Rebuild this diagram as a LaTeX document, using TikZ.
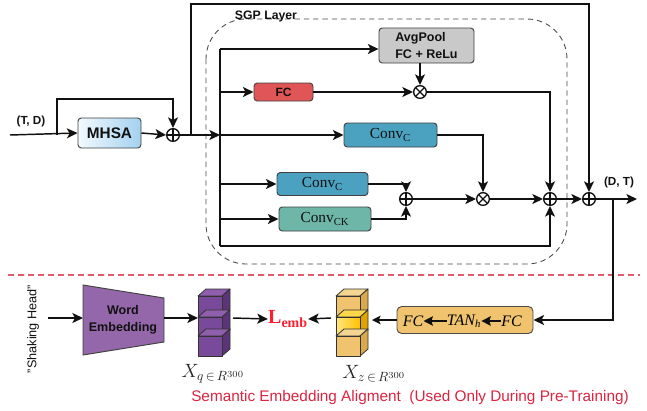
\documentclass[tikz,border=0pt]{standalone}
\usepackage{fontspec}
\setmainfont{Liberation Serif}
\setsansfont{Liberation Sans}
\usetikzlibrary{arrows.meta,calc}

\definecolor{ink}{HTML}{111111}
\definecolor{boxedge}{HTML}{404040}
\definecolor{fcred}{HTML}{E05656}
\definecolor{poolgray}{HTML}{C9C9C9}
\definecolor{convblue}{HTML}{4AA2C0}
\definecolor{convteal}{HTML}{6DB6A8}
\definecolor{mhsaL}{HTML}{F2FAFE}
\definecolor{mhsaR}{HTML}{A3D1EF}
\definecolor{wepurple}{HTML}{9467AA}
\definecolor{cubePf}{HTML}{7A4A9A}
\definecolor{cubePt}{HTML}{8F5FAE}
\definecolor{cubePs}{HTML}{5C3478}
\definecolor{sand}{HTML}{F0C46E}
\definecolor{sandtop}{HTML}{F5D690}
\definecolor{sandside}{HTML}{D9A94C}
\definecolor{goldL}{HTML}{FFE680}
\definecolor{goldR}{HTML}{FFC200}
\definecolor{goldtop}{HTML}{FFD84A}
\definecolor{goldside}{HTML}{E0A400}
\definecolor{lossred}{HTML}{FF1E2D}
\definecolor{notered}{HTML}{DC2340}
\definecolor{splitred}{HTML}{E35A6A}
\definecolor{layergray}{HTML}{4A4A4A}

% one cube: lower-left front corner (#1,#2); styles for front, top and side faces
\newcommand{\drawcube}[5]{%
  \draw[cubeedge,#4] (#1,#2-20) -- ++(8,-7) -- ++(24,0) -- ++(-8,7) -- cycle;
  \draw[cubeedge,#5] (#1+24,#2) -- ++(8,-7) -- ++(0,-20) -- ++(-8,7) -- cycle;
  \draw[cubeedge,#3] (#1,#2) rectangle ++(24,-20);
}

\begin{document}
\begin{tikzpicture}[x=0.75pt,y=-0.75pt,
  conn/.style={draw=ink, line width=1.1pt, -{Stealth[length=8pt,width=7.5pt,inset=2pt]}},
  wire/.style={draw=ink, line width=1.1pt},
  blk/.style={draw=boxedge, line width=0.7pt, rounded corners=2.5pt, inner sep=0pt, text=ink},
  sumop/.style={circle, draw=ink, line width=1pt, minimum size=9.5pt, inner sep=0pt, fill=white,
    path picture={\draw[ink,line width=0.9pt]
      (path picture bounding box.north) -- (path picture bounding box.south)
      (path picture bounding box.west) -- (path picture bounding box.east);}},
  prodop/.style={circle, draw=ink, line width=1pt, minimum size=9.5pt, inner sep=0pt, fill=white,
    path picture={\draw[ink,line width=0.9pt]
      (path picture bounding box.north west) -- (path picture bounding box.south east)
      (path picture bounding box.north east) -- (path picture bounding box.south west);}},
  sanslab/.style={font=\sffamily\bfseries\fontsize{8.8}{10}\selectfont, text=ink, inner sep=0pt},
  convtext/.style={font=\fontsize{11.5}{13}\selectfont},
  cubeedge/.style={draw=black!80, line width=0.6pt, line join=round},
  tipbig/.style={draw=ink, line width=1.3pt, -{Stealth[length=7pt,width=7pt,inset=1pt]}},
]
\useasboundingbox (0,0) rectangle (647,411);

% ---------------- SGP layer frame ----------------
\draw[draw=layergray, dash pattern=on 4pt off 3pt, line width=0.65pt, rounded corners=30pt]
  (206,19) rectangle (567,264);
\node[sanslab, font=\sffamily\bfseries\fontsize{9.2}{10}\selectfont] (sgp) at (266,16) {SGP Layer};

% ---------------- blocks ----------------
\node[blk, shading=axis, left color=mhsaL, right color=mhsaR, minimum width=47.25pt, minimum height=22.5pt,
      font=\sffamily\bfseries\fontsize{11.5}{13}\selectfont] (mhsa) at (109.5,133) {MHSA};
\node[sumop] (op1) at (173,135) {};

\node[blk, fill=fcred, minimum width=44.25pt, minimum height=13.5pt,
      font=\sffamily\bfseries\fontsize{9}{10}\selectfont] (fc) at (283.5,92) {FC};
\node[blk, fill=poolgray, minimum width=71.25pt, minimum height=26.25pt, align=left,
      font=\sffamily\bfseries\fontsize{9.4}{12.75}\selectfont] (avg) at (426.5,45.5) {AvgPool\\FC + ReLu};
\node[prodop] (ot1) at (420,92) {};

\node[blk, fill=convblue, minimum width=69.75pt, minimum height=18pt, convtext] (convc1) at (390.5,135) {Conv\textsubscript{C}};
\node[blk, fill=convblue, minimum width=68.25pt, minimum height=17.25pt, convtext] (convc2) at (322.5,184) {Conv\textsubscript{C}};
\node[blk, fill=convteal, minimum width=69pt, minimum height=18pt, convtext] (convck) at (325,219) {Conv\textsubscript{CK}};

\node[sumop] (op2) at (406,199) {};
\node[prodop] (ot2) at (483,199) {};
\node[sumop] (op3) at (550,199) {};
\node[sumop] (op4) at (589,199) {};

\node[sanslab] (td) at (31,121) {(T, D)};
\node[sanslab] (dt) at (619,182) {(D, T)};

% ---------------- top-half connectors ----------------
\coordinate (in) at (10,135);
\coordinate (skp) at (57,135);
\coordinate (tap) at (191,135);
\coordinate (busm) at (220,135);
\coordinate (bustop) at (220,49);
\coordinate (busbot) at (220,246);
\coordinate (busfc) at (220,92);
\coordinate (busc) at (220,184);
\coordinate (busck) at (220,219);
\coordinate (out) at (637,199);
\coordinate (dn) at (613,199);

\draw[conn] (in) -- (mhsa.west);
\draw[conn] (skp) -- (57,99) -| (op1.north);
\draw[conn] (mhsa.east) -- (op1.west);
\draw[conn] (op1.east) -- (busm);
\draw[conn] (tap) -- (191,4) -| (op4.north);
\draw[wire] (bustop) -- (busbot);

\draw[conn] (bustop) -- (bustop -| avg.west);
\draw[conn] (avg.south -| ot1) -- (ot1.north);
\draw[conn] (busfc) -- (fc.west);
\draw[conn] (fc.east) -- (ot1.west);
\draw[conn] (ot1.east) -| (op3.north);

\draw[conn] (busm) -- (convc1.west);
\draw[conn] (convc1.east) -| (ot2.north);

\draw[conn] (busc) -- (convc2.west);
\draw[conn] (busck) -- (convck.west);
\draw[conn] (convc2.east) -| (op2.north);
\draw[conn] (convck.east) -| (op2.south);

\draw[conn] (op2.east) -- (ot2.west);
\draw[conn] (ot2.east) -- (op3.west);
\draw[conn] (busbot) -| (op3.south);
\draw[conn] (op3.east) -- (op4.west);
\draw[conn] (op4.east) -- (out);

% ---------------- split line ----------------
\draw[draw=splitred, dash pattern=on 4.5pt off 3pt, line width=0.8pt] (8,275) -- (640,275);

% ---------------- semantic embedding branch ----------------
\node[blk, fill=sand, draw=black!70, minimum width=102pt, minimum height=20.25pt, rounded corners=3.5pt] (fctan) at (465,320) {};
\node[inner sep=0pt, font=\itshape\fontsize{12}{14}\selectfont] (fa) at (413,321) {FC};
\node[inner sep=0pt, font=\itshape\fontsize{12}{14}\selectfont] (tanh) at (464,321) {TAN\textsubscript{h}};
\node[inner sep=0pt, font=\itshape\fontsize{12}{14}\selectfont] (fb) at (511.5,321) {FC};
\draw[tipbig] (tanh.west) -- (fa.east);
\draw[tipbig] (fb.west) -- (tanh.east);

\draw[conn] (dn) |- (fctan.east);

% word embedding
\draw[boxedge, line width=0.7pt, fill=wepurple] (83,285) -- (164,298) -- (164,342) -- (83,355) -- cycle;
\node[align=center, font=\sffamily\bfseries\fontsize{9.4}{13}\selectfont, text=ink] (we) at (123,320) {Word\\Embedding};
\node[rotate=90, font=\sffamily\fontsize{9.5}{10}\selectfont, text=ink, inner sep=0pt] (shk) at (33,329) {"Shaking Head"};
\coordinate (shkout) at (48,318);
\coordinate (wein) at (83,318);
\coordinate (weout) at (164,318);
\draw[conn] (shkout) -- (wein);

% query embedding stack
\drawcube{198}{316}{fill=cubePf}{fill=cubePt}{fill=cubePs}
\drawcube{198}{337}{fill=cubePf}{fill=cubePt}{fill=cubePs}
\drawcube{198}{356}{fill=cubePf}{fill=cubePt}{fill=cubePs}
\coordinate (qin) at (198,318);
\coordinate (qout) at (233,318);
\draw[conn] (weout) -- (qin);

% visual embedding stack
\drawcube{336}{316}{fill=sand}{fill=sandtop}{fill=sandside}
\drawcube{336}{337}{left color=goldL, right color=goldR}{fill=goldtop}{fill=goldside}
\drawcube{336}{356}{fill=sand}{fill=sandtop}{fill=sandside}
\coordinate (zin) at (372,320);
\coordinate (zout) at (331,318);

\node[inner sep=0pt, text=lossred, font=\fontsize{15}{17}\selectfont] (lemb) at (288,319) {$\mathbf{L}_{\mathbf{emb}}$};
\draw[conn] (qout) -- (lemb.west);
\draw[conn] (zout) -- (lemb.east);
\draw[draw=ink, line width=0.9pt, -{Stealth[length=6.5pt,width=6.5pt,inset=1.5pt]}] (fctan.west) -- (zin);

\node[font=\fontsize{14}{16}\selectfont, text=black!85, inner sep=0pt] (xq) at (213,374) {$X_{q\,\in\,R^{300}}$};
\node[font=\fontsize{14}{16}\selectfont, text=black!85, inner sep=0pt] (xz) at (374,374) {$X_{z\,\in\,R^{300}}$};

\node[font=\sffamily\fontsize{11.5}{13}\selectfont, text=notered, inner sep=0pt] (note) at (410,398)
  {Semantic Embedding Aligment\ \ (Used Only During Pre-Training)};
\end{tikzpicture}
\end{document}
